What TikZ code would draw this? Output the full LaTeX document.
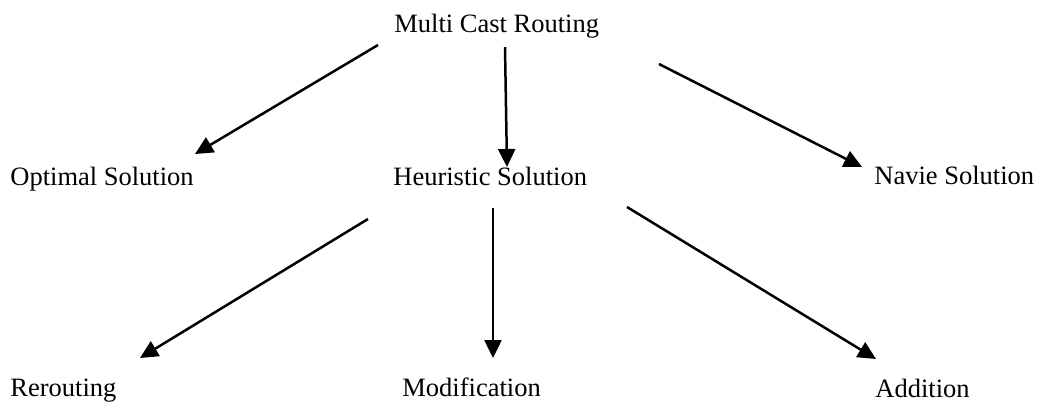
\documentclass[tikz,border=0pt]{standalone}
\usepackage{fontspec}
\setmainfont{Liberation Serif}
\usetikzlibrary{arrows.meta}

\begin{document}
\begin{tikzpicture}[x=0.5pt,y=-0.5pt]
            \tikzset{label/.style = {anchor=base west,inner sep=0pt,font=\fontsize{13.25}{16}\selectfont}}
            \tikzset{edge/.style = {-{Triangle[length=9pt,width=8.5pt]},line width=1.25pt}}
            \useasboundingbox (0,0) rectangle (1039,408);
            \node[label] (mcr) at (394,32) {Multi Cast Routing};
            \node[label] (opt) at (10,185) {Optimal Solution};
            \node[label] (heu) at (393,185) {Heuristic Solution};
            \node[label] (nav) at (874,184) {Navie Solution};
            \node[label] (rer) at (10,396) {Rerouting};
            \node[label] (mod) at (402,396) {Modification};
            \node[label] (add) at (875,397) {Addition};

            % arrow end points
            \coordinate (mcr-l) at (378,45);
            \coordinate (mcr-m) at (505,47);
            \coordinate (mcr-r) at (659,64);
            \coordinate (opt-t) at (195,154);
            \coordinate (heu-t) at (507,167);
            \coordinate (nav-t) at (862,167);
            \coordinate (heu-l) at (368,219);
            \coordinate (heu-m) at (493,208);
            \coordinate (heu-r) at (627,207);
            \coordinate (rer-t) at (140,358);
            \coordinate (mod-t) at (493,358);
            \coordinate (add-t) at (876,359);

            \draw[edge] (mcr-l) to (opt-t);
            \draw[edge] (mcr-m) to (heu-t);
            \draw[edge] (mcr-r) to (nav-t);
            \draw[edge] (heu-l) to (rer-t);
            \draw[edge] (heu-m) to (mod-t);
            \draw[edge] (heu-r) to (add-t);
        \end{tikzpicture}
\end{document}
